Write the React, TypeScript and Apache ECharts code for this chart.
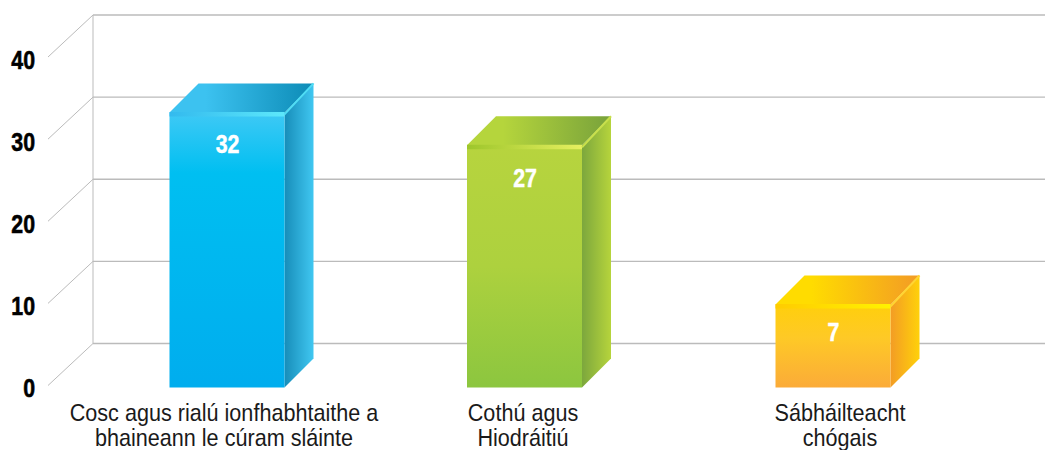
import React, { useEffect, useRef } from "react";
import * as echarts from "echarts";

const categories = [
  "Cosc agus rialú ionfhabhtaithe a\nbhaineann le cúram sláinte",
  "Cothú agus\nHiodráitiú",
  "Sábháilteacht\nchógais",
];
const barLabels = ["32", "27", "7"];
// Drawn heights of the bars as they stand against the axis in the picture
const barHeights = [33.5, 29.5, 10.1];
const yTicks = [0, 10, 20, 30, 40];

const barShift = [3, -7.5, -7];
const labelDrop = [31.5, 32, 27];
const catLabelShift = [0, -9, 0];

const FONT = '"Liberation Sans", sans-serif';
const grad = (horizontal: boolean, stops: [number, string][]) =>
  new echarts.graphic.LinearGradient(0, 0, horizontal ? 1 : 0, horizontal ? 0 : 1,
    stops.map(([offset, color]) => ({ offset, color })));

const palettes = [
  {
    front: [[0, "#3FC9F5"], [0.22, "#00BFF1"], [1, "#00ADEE"]],
    cap: [[0, "#3CC2F0"], [0.25, "#3CC2F0"], [1, "#0C8BB6"]],
    strip: [[0, "#33BAEE"], [1, "#5DE8FB"]],
    side: [[0, "#178DB9"], [1, "#40C7F1"]],
    edge: "#4FDDF5",
  },
  {
    front: [[0, "#B7D43E"], [0.5, "#ADD13E"], [1, "#8CC63F"]],
    cap: [[0, "#B5D53C"], [0.25, "#B5D53C"], [1, "#78A23B"]],
    strip: [[0, "#9DC62B"], [1, "#E6F060"]],
    side: [[0, "#7CA73D"], [1, "#B6D43C"]],
    edge: "#C8E04C",
  },
  {
    front: [[0, "#FFCF0C"], [0.4, "#FEC926"], [1, "#FBAB39"]],
    cap: [[0, "#FFDC00"], [0.25, "#FFDC00"], [1, "#F39B25"]],
    strip: [[0, "#FFCC00"], [1, "#FFF200"]],
    side: [[0, "#F39C25"], [1, "#FFD10A"]],
    edge: "#FFD533",
  },
] as const;

const renderWall = (params: any, api: any) => {
  const v = api.value(0);
  const y = api.coord([0, v])[1];
  const cs = params.coordSys;
  const wallX = cs.x + 23;
  const startX = cs.x - 22;
  const line = { stroke: "#BBBBBB", lineWidth: 1 };
  const children: any[] = [
    { type: "line", shape: { x1: startX, y1: y - 2, x2: wallX, y2: y - 44 }, style: line },
    { type: "line", shape: { x1: wallX, y1: y - 44, x2: api.getWidth(), y2: y - 44 }, style: { ...line, lineWidth: 1.3 } },
    {
      type: "text",
      x: cs.x - 35,
      y: y + 0.5,
      scaleX: 0.82,
      style: {
        x: 0, y: 0, text: String(v), fill: "#000000", stroke: "#000000", lineWidth: 0.6,
        font: `bold 26px ${FONT}`, align: "right", verticalAlign: "middle",
      },
    },
  ];
  if (v === 0) {
    const top = api.coord([0, 40])[1] - 44;
    children.push({ type: "line", shape: { x1: wallX, y1: top, x2: wallX, y2: y - 44 }, style: line });
  }
  return { type: "group", children };
};

const renderBar = (_params: any, api: any) => {
  const i = api.value(0);
  const [cx, top] = api.coord([i, api.value(1)]);
  const base = api.coord([i, 0])[1];
  const w = 115;
  const d = 29;
  const l = cx + barShift[i] - w / 2;
  const r = l + w;
  const p: any = palettes[i];
  return {
    type: "group",
    children: [
      { type: "polygon", shape: { points: [[l, top], [l + d, top - d], [r + d, top - d], [r, top]] }, style: { fill: grad(true, p.cap) } },
      { type: "polygon", shape: { points: [[r, top], [r + d, top - d], [r + d, base - d], [r, base]] }, style: { fill: grad(true, p.side) } },
      { type: "rect", shape: { x: l, y: top, width: w, height: base - top }, style: { fill: grad(false, p.front) } },
      { type: "rect", shape: { x: l, y: top - 0.5, width: w, height: 4.5 }, style: { fill: grad(true, p.strip) } },
      { type: "line", shape: { x1: r, y1: top + 2, x2: r + d, y2: top - d }, style: { stroke: p.edge, lineWidth: 2 } },
      {
        type: "text",
        x: l + w / 2 + 0.5,
        y: top + labelDrop[i],
        scaleX: 0.82,
        style: {
          x: 0, y: 0, text: barLabels[i], fill: "#FFFFFF", stroke: "#FFFFFF", lineWidth: 0.5,
          font: `bold 26px ${FONT}`, align: "center", verticalAlign: "middle",
        },
      },
      {
        type: "text",
        x: cx + catLabelShift[i],
        y: base + 12,
        scaleX: 0.9,
        style: { x: 0, y: 0, text: categories[i], fill: "#1A1A1A", font: `24px ${FONT}`, lineHeight: 25.5, align: "center", verticalAlign: "top" },
      },
    ],
  };
};

export default function App() {
  const ref = useRef<HTMLDivElement>(null);
  useEffect(() => {
    document.body.style.margin = "0";
    const chart = echarts.init(ref.current!, undefined, { renderer: "svg" });
    chart.setOption({
      animation: false,
      backgroundColor: "#FFFFFF",
      grid: { left: 70, top: 59, width: 924, height: 328.5, outerBoundsMode: "none" },
      xAxis: {
        type: "category",
        data: categories,
        axisLine: { show: false },
        axisTick: { show: false },
        splitLine: { show: false },
        axisLabel: { show: false },
      },
      yAxis: {
        type: "value",
        min: 0,
        max: 40,
        interval: 10,
        axisLine: { show: false },
        axisTick: { show: false },
        splitLine: { show: false },
        axisLabel: { show: false },
      },
      series: [
        { type: "custom", clip: false, z: 1, renderItem: renderWall, data: yTicks.map((v) => [v]), encode: { y: 0 } },
        { type: "custom", clip: false, z: 2, renderItem: renderBar, data: barHeights.map((h, i) => [i, h]), encode: { x: 0, y: 1 } },
      ],
    });
    return () => chart.dispose();
  }, []);
  return <div ref={ref} style={{ width: 1045, height: 450 }} />;
}
